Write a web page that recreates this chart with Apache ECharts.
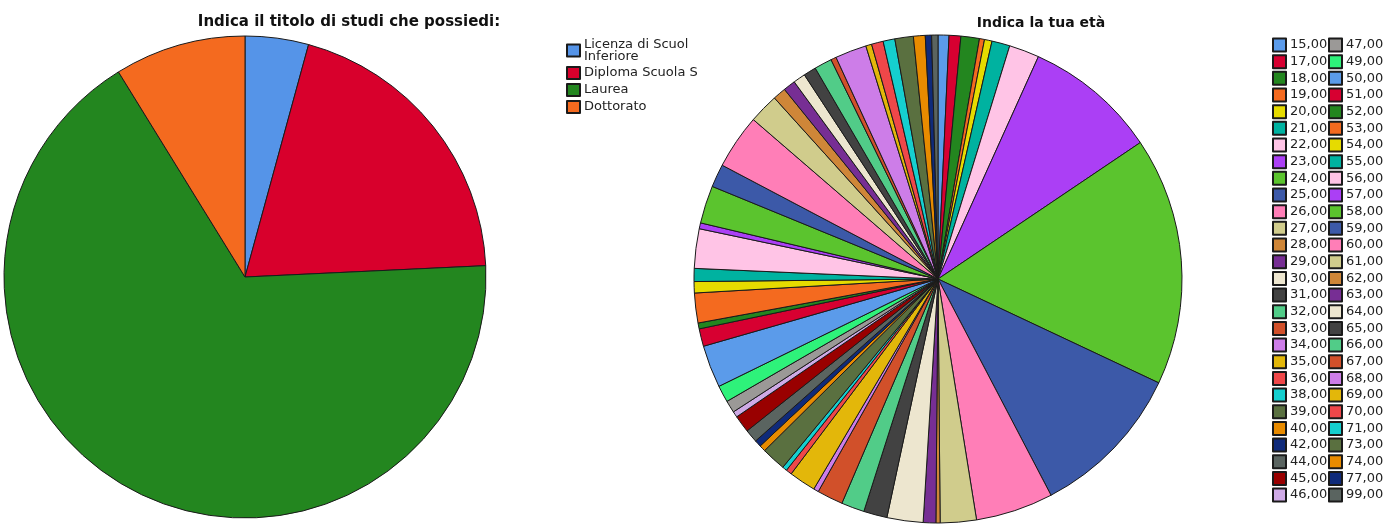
<!DOCTYPE html>
<html>
<head>
<meta charset="utf-8">
<script src="https://cdn.jsdelivr.net/npm/echarts@6/dist/echarts.min.js"></script>
<style>
html,body{margin:0;padding:0;background:#fff;}
#chart{width:1400px;height:524px;}
</style>
</head>
<body>
<div id="chart"></div>
<script>
// ---- Data ----
const studyTitle = 'Indica il titolo di studi che possiedi:';
const studyCategories = ['Licenza di Scuola Media Inferiore', 'Diploma Scuola Superiore', 'Laurea', 'Dottorato'];
const studyValues = [4.25, 20.0, 66.95, 8.8];

const ageTitle = 'Indica la tua età';
const ageCategories = ['15,00','17,00','18,00','19,00','20,00','21,00','22,00','23,00','24,00','25,00',
  '26,00','27,00','28,00','29,00','30,00','31,00','32,00','33,00','34,00','35,00',
  '36,00','38,00','39,00','40,00','42,00','44,00','45,00','46,00','47,00','49,00',
  '50,00','51,00','52,00','53,00','54,00','55,00','56,00','57,00','58,00','59,00',
  '60,00','61,00','62,00','63,00','64,00','65,00','66,00','67,00','68,00','69,00',
  '70,00','71,00','73,00','74,00','77,00','99,00'];
const ageValues = [2.6, 2.8, 4.4, 1.2, 1.8, 4.3, 7.2, 31.7, 59.2, 37.2,
  18.5, 8.6, 1.0, 3.0, 8.6, 5.6, 5.5, 6.2, 1.2, 6.4,
  1.4, 1.1, 5.8, 1.5, 1.6, 3.1, 4.1, 1.4, 2.9, 4.0,
  10.1, 4.2, 1.4, 7.1, 2.7, 3.1, 9.4, 1.4, 9.0, 5.5,
  13.0, 7.1, 3.1, 2.9, 2.9, 3.0, 4.2, 1.3, 7.5, 1.4,
  2.8, 2.8, 4.4, 2.8, 1.5, 1.5];

// ---- Styles ----
const studyColors = ['#5594e8', '#d8002c', '#23861f', '#f46a1f'];
const palette = ['#5b9bea','#d70031','#23861f','#f46a1f','#e6db00','#00b2a0','#ffc4e6','#ab3ff5','#5bc42e','#3c59a8',
  '#ff7eb7','#d0cc8c','#cf8638','#772e94','#ede6cf','#424242','#51cc88','#d1502a','#cd7de8','#e3b70a',
  '#ef4749','#15cfcf','#5a7040','#e88b00','#0f2a7a','#5a6460','#990000','#cfaae6','#9b9997','#2ef27a'];
const legendWrap = {'Licenza di Scuola Media Inferiore': 'Licenza di Scuol\nInferiore'};

const FONT = '"DejaVu Sans", sans-serif';
const TITLE_FONT = '"DejaVu Sans", sans-serif';

const studyData = studyCategories.map((c, i) => ({name: c, value: studyValues[i], itemStyle: {color: studyColors[i]}}));
const ageData = ageCategories.map((c, i) => ({name: c, value: ageValues[i], itemStyle: {color: palette[i % palette.length]}}));

const half = Math.ceil(ageCategories.length / 2);

const chart = echarts.init(document.getElementById('chart'), null, {renderer: 'canvas'});
const pieBase = {
  type: 'pie',
  startAngle: 90,
  clockwise: true,
  minAngle: 0,
  avoidLabelOverlap: false,
  label: {show: false},
  labelLine: {show: false},
  emphasis: {disabled: true},
  itemStyle: {borderColor: '#1a1a1a', borderWidth: 1}
};
const ageLegend = (names, left) => ({
  data: names,
  orient: 'vertical', left: left, top: 37.5, height: 486, padding: 0,
  itemWidth: 13, itemHeight: 13, itemGap: 1.67,
  icon: 'rect', selectedMode: false,
  textStyle: {fontFamily: FONT, fontSize: 13, lineHeight: 13, color: '#222', padding: [0,0,0,-1]}
});
chart.setOption({
  animation: false,
  backgroundColor: '#ffffff',
  title: [
    {text: studyTitle, left: 344, top: 10, textAlign: 'center',
     textStyle: {fontFamily: TITLE_FONT, fontWeight: 'bold', fontSize: 15, color: '#111'}},
    {text: ageTitle, left: 1036, top: 11, textAlign: 'center',
     textStyle: {fontFamily: TITLE_FONT, fontWeight: 'bold', fontSize: 14, color: '#111'}}
  ],
  legend: [
    {
      data: studyCategories,
      orient: 'vertical', left: 566, top: 38, padding: 0,
      itemWidth: 13, itemHeight: 12, itemGap: 3,
      icon: 'rect', selectedMode: false,
      formatter: n => legendWrap[n] || n,
      textStyle: {fontFamily: FONT, fontSize: 13, lineHeight: 12, color: '#222', padding: [0,0,0,-1],
        width: 118, overflow: 'truncate', ellipsis: ''}
    },
    ageLegend(ageCategories.slice(0, half), 1272),
    ageLegend(ageCategories.slice(half), 1328)
  ],
  series: [
    Object.assign({}, pieBase, {name: 'studi', center: [245, 277], radius: [0, 241], data: studyData}),
    Object.assign({}, pieBase, {name: 'eta', center: [938, 279], radius: [0, 244], data: ageData})
  ]
});
</script>
</body>
</html>
